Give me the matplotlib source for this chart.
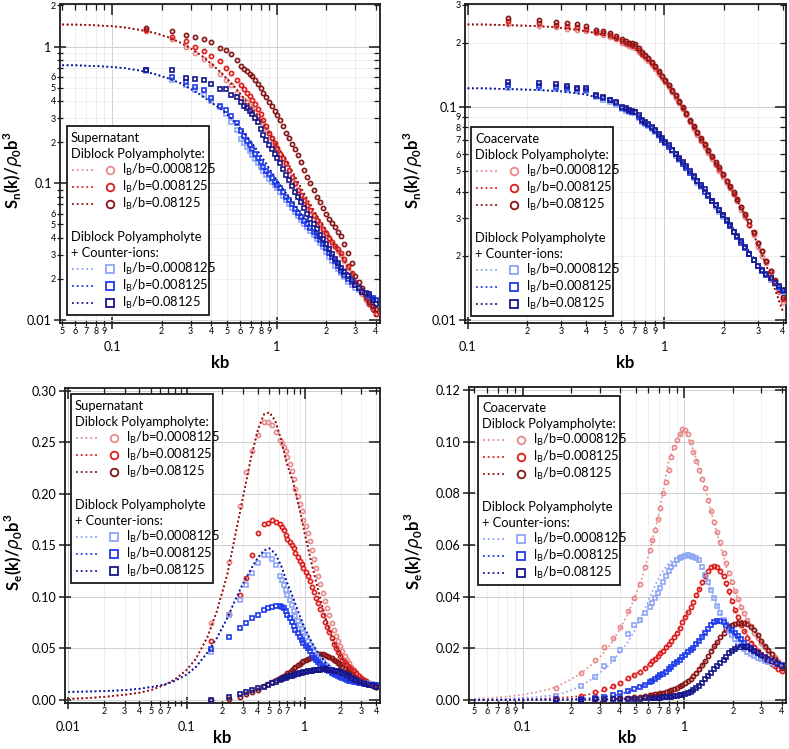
import numpy as np
import matplotlib
matplotlib.use("Agg")
import matplotlib.pyplot as plt
from matplotlib.patches import Rectangle
from matplotlib.lines import Line2D
from matplotlib.ticker import (LogLocator, FuncFormatter, MultipleLocator,
                               FormatStrFormatter)

plt.rcParams['font.family'] = ['Lato', 'DejaVu Sans']

W, H = 789, 749

# light red, red, dark red, light blue, blue, dark blue
COLORS = ['#E68A8C', '#DD1C1C', '#861515', '#8EA6F5', '#1F3BEB', '#16168A']
MARKERS = ['o', 'o', 'o', 's', 's', 's']
LB_VALUES = ['0.0008125', '0.008125', '0.08125']

# simulation wavevectors (same grid in every panel)
K_SIM = [0.16, 0.23, 0.28, 0.32, 0.36, 0.40, 0.45, 0.49, 0.53, 0.57, 0.61,
         0.635, 0.66, 0.685, 0.71, 0.74, 0.77, 0.80, 0.83, 0.865, 0.90, 0.935, 0.97,
         1.01, 1.05, 1.095, 1.14, 1.19, 1.24, 1.295, 1.35, 1.41, 1.47, 1.535, 1.60,
         1.675, 1.75, 1.825, 1.90, 1.985, 2.07, 2.16, 2.25, 2.35, 2.45, 2.575, 2.70,
         2.85, 3.00, 3.15, 3.30, 3.475, 3.65, 3.825, 4.00]

# ---- Supernatant, S_n(k) ----
K_TH_SN_SUP = [0.05, 0.06, 0.07, 0.08, 0.1, 0.12, 0.14, 0.16, 0.19, 0.22, 0.26, 0.3, 0.35,
               0.4, 0.45, 0.5, 0.56, 0.63, 0.7, 0.8, 0.9, 1.0, 1.15, 1.3, 1.5, 1.75, 2.0,
               2.4, 2.8, 3.3, 4.0]
TH_SN_SUP_RED = [1.45, 1.45, 1.44, 1.43, 1.41, 1.38, 1.34, 1.30, 1.24, 1.17, 1.07, 0.97, 0.86,
                 0.75, 0.66, 0.58, 0.50, 0.42, 0.36, 0.29, 0.235, 0.19, 0.145, 0.11, 0.08,
                 0.058, 0.045, 0.031, 0.023, 0.016, 0.0105]
TH_SN_SUP_BLUE = [0.73, 0.73, 0.725, 0.72, 0.71, 0.695, 0.675, 0.655, 0.62, 0.585, 0.54, 0.49,
                  0.44, 0.39, 0.355, 0.32, 0.28, 0.235, 0.2, 0.16, 0.128, 0.105, 0.083, 0.068,
                  0.053, 0.042, 0.034, 0.026, 0.021, 0.017, 0.014]
SN_SUP_LR = [1.30, 1.13, 1.00, 0.90, 0.81, 0.73, 0.63, 0.57, 0.52, 0.46, 0.42,
             0.405, 0.39, 0.37, 0.35, 0.33, 0.31, 0.29, 0.27, 0.248, 0.228, 0.21, 0.193,
             0.178, 0.163, 0.15, 0.138, 0.124, 0.11, 0.099, 0.089, 0.081, 0.074, 0.068,
             0.063, 0.058, 0.053, 0.049, 0.045, 0.042, 0.039, 0.036, 0.034, 0.032, 0.030,
             0.027, 0.024, 0.0215, 0.019, 0.017, 0.0155, 0.014, 0.013, 0.012, 0.011]
SN_SUP_R = [1.33, 1.18, 1.09, 1.00, 0.93, 0.86, 0.78, 0.70, 0.64, 0.57, 0.52,
            0.49, 0.46, 0.435, 0.41, 0.38, 0.35, 0.32, 0.29, 0.262, 0.235, 0.215, 0.198,
            0.18, 0.165, 0.152, 0.14, 0.125, 0.112, 0.1, 0.09, 0.082, 0.075, 0.069, 0.064,
            0.059, 0.054, 0.05, 0.046, 0.043, 0.040, 0.037, 0.035, 0.033, 0.031, 0.028,
            0.025, 0.022, 0.019, 0.0175, 0.016, 0.0145, 0.013, 0.012, 0.011]
SN_SUP_DR = [1.37, 1.29, 1.22, 1.17, 1.13, 1.08, 0.98, 0.94, 0.89, 0.80, 0.72,
             0.69, 0.66, 0.635, 0.61, 0.57, 0.53, 0.495, 0.46, 0.425, 0.39, 0.365, 0.34,
             0.315, 0.29, 0.262, 0.235, 0.215, 0.195, 0.178, 0.16, 0.142, 0.125, 0.112,
             0.10, 0.09, 0.08, 0.073, 0.066, 0.06, 0.055, 0.051, 0.048, 0.044, 0.041, 0.036,
             0.031, 0.026, 0.021, 0.019, 0.017, 0.015, 0.0135, 0.0127, 0.012]
SN_SUP_LB = [0.66, 0.57, 0.52, 0.48, 0.44, 0.40, 0.36, 0.32, 0.28, 0.245, 0.212,
             0.197, 0.183, 0.171, 0.16, 0.15, 0.14, 0.131, 0.123, 0.115, 0.108, 0.102, 0.097,
             0.092, 0.087, 0.081, 0.076, 0.071, 0.066, 0.062, 0.058, 0.054, 0.050, 0.0475,
             0.045, 0.042, 0.039, 0.0365, 0.034, 0.0315, 0.029, 0.027, 0.025, 0.0235, 0.022,
             0.0205, 0.019, 0.018, 0.017, 0.0165, 0.016, 0.0155, 0.015, 0.0145, 0.014]
SN_SUP_B = [0.67, 0.60, 0.555, 0.505, 0.48, 0.42, 0.37, 0.345, 0.31, 0.275, 0.24,
            0.222, 0.205, 0.19, 0.178, 0.165, 0.152, 0.142, 0.132, 0.124, 0.116, 0.109,
            0.103, 0.097, 0.092, 0.086, 0.08, 0.075, 0.07, 0.065, 0.061, 0.057, 0.053, 0.05,
            0.047, 0.044, 0.041, 0.0385, 0.036, 0.0335, 0.031, 0.029, 0.027, 0.025, 0.023,
            0.0215, 0.020, 0.019, 0.018, 0.017, 0.016, 0.0155, 0.015, 0.0145, 0.014]
SN_SUP_DB = [0.68, 0.67, 0.59, 0.58, 0.57, 0.53, 0.49, 0.49, 0.445, 0.43, 0.39,
             0.37, 0.355, 0.34, 0.32, 0.30, 0.28, 0.25, 0.225, 0.207, 0.19, 0.177, 0.165,
             0.152, 0.14, 0.127, 0.115, 0.105, 0.095, 0.087, 0.08, 0.073, 0.066, 0.06,
             0.055, 0.05, 0.046, 0.042, 0.039, 0.036, 0.033, 0.0305, 0.028, 0.026, 0.024,
             0.0225, 0.021, 0.0195, 0.018, 0.017, 0.016, 0.0158, 0.0155, 0.014, 0.013]

# ---- Coacervate, S_n(k) ----
K_TH_SN_COA = [0.1, 0.12, 0.14, 0.16, 0.19, 0.22, 0.26, 0.3, 0.35, 0.4, 0.45, 0.5, 0.56, 0.63,
               0.7, 0.8, 0.9, 1.0, 1.15, 1.3, 1.5, 1.75, 2.0, 2.4, 2.8, 3.3, 4.0]
TH_SN_COA_RED = [0.243, 0.243, 0.242, 0.241, 0.240, 0.239, 0.237, 0.234, 0.230, 0.226, 0.221,
                 0.216, 0.208, 0.198, 0.188, 0.172, 0.153, 0.134, 0.11, 0.092, 0.074, 0.058,
                 0.048, 0.035, 0.026, 0.018, 0.011]
TH_SN_COA_BLUE = [0.122, 0.122, 0.1215, 0.121, 0.1205, 0.12, 0.119, 0.118, 0.116, 0.114, 0.111,
                  0.108, 0.104, 0.099, 0.094, 0.086, 0.0775, 0.069, 0.059, 0.052, 0.044, 0.0365,
                  0.031, 0.0245, 0.020, 0.0165, 0.0136]
SN_COA_LR = [0.243, 0.239, 0.236, 0.232, 0.229, 0.226, 0.222, 0.218, 0.213, 0.207, 0.199,
             0.196, 0.193, 0.191, 0.188, 0.181, 0.174, 0.169, 0.164, 0.157, 0.150, 0.143,
             0.137, 0.13, 0.124, 0.117, 0.110, 0.104, 0.098, 0.091, 0.085, 0.079, 0.074,
             0.069, 0.065, 0.061, 0.057, 0.0535, 0.050, 0.047, 0.044, 0.0415, 0.039, 0.036,
             0.033, 0.0305, 0.028, 0.025, 0.022, 0.020, 0.0185, 0.0167, 0.015, 0.0135, 0.0122]
SN_COA_R = [0.251, 0.247, 0.242, 0.239, 0.236, 0.232, 0.225, 0.222, 0.218, 0.211, 0.203,
            0.200, 0.197, 0.195, 0.192, 0.185, 0.177, 0.172, 0.167, 0.16, 0.153, 0.146, 0.139,
            0.132, 0.126, 0.119, 0.112, 0.105, 0.099, 0.092, 0.086, 0.08, 0.075, 0.07, 0.066,
            0.062, 0.058, 0.054, 0.051, 0.048, 0.045, 0.042, 0.039, 0.0365, 0.034, 0.031,
            0.028, 0.0255, 0.023, 0.021, 0.019, 0.017, 0.0152, 0.0138, 0.0125]
SN_COA_DR = [0.260, 0.255, 0.249, 0.246, 0.243, 0.239, 0.229, 0.226, 0.222, 0.215, 0.207,
             0.203, 0.200, 0.198, 0.196, 0.188, 0.180, 0.175, 0.170, 0.162, 0.155, 0.147,
             0.140, 0.133, 0.127, 0.12, 0.113, 0.106, 0.100, 0.093, 0.087, 0.081, 0.076,
             0.071, 0.067, 0.063, 0.059, 0.055, 0.052, 0.0485, 0.045, 0.0425, 0.040, 0.037,
             0.034, 0.0315, 0.029, 0.026, 0.023, 0.021, 0.019, 0.017, 0.0155, 0.014, 0.0128]
SN_COA_LB = [0.123, 0.122, 0.121, 0.120, 0.119, 0.118, 0.111, 0.108, 0.105, 0.102, 0.098,
             0.096, 0.094, 0.0935, 0.093, 0.089, 0.085, 0.083, 0.081, 0.0785, 0.076, 0.073,
             0.070, 0.0675, 0.065, 0.062, 0.059, 0.0565, 0.054, 0.0515, 0.049, 0.0465,
             0.044, 0.042, 0.040, 0.038, 0.036, 0.034, 0.032, 0.0305, 0.029, 0.0275, 0.026,
             0.0245, 0.023, 0.0218, 0.0205, 0.0192, 0.018, 0.017, 0.0162, 0.0155, 0.0148,
             0.0142, 0.0136]
SN_COA_B = [0.127, 0.125, 0.124, 0.122, 0.121, 0.120, 0.112, 0.110, 0.107, 0.104, 0.099,
            0.0975, 0.096, 0.095, 0.094, 0.09, 0.086, 0.084, 0.082, 0.0795, 0.077, 0.0735,
            0.070, 0.0675, 0.065, 0.0625, 0.060, 0.057, 0.054, 0.0515, 0.049, 0.047, 0.045,
            0.0425, 0.040, 0.038, 0.036, 0.0345, 0.033, 0.031, 0.029, 0.0275, 0.026, 0.0245,
            0.023, 0.0218, 0.0205, 0.0192, 0.018, 0.017, 0.0163, 0.0157, 0.015, 0.0143,
            0.0137]
SN_COA_DB = [0.131, 0.129, 0.128, 0.125, 0.123, 0.122, 0.113, 0.111, 0.108, 0.105, 0.100,
             0.0985, 0.097, 0.096, 0.095, 0.091, 0.087, 0.085, 0.083, 0.0805, 0.078, 0.0745,
             0.071, 0.0685, 0.066, 0.063, 0.060, 0.0575, 0.055, 0.0525, 0.050, 0.0475, 0.045,
             0.043, 0.041, 0.0385, 0.036, 0.0345, 0.033, 0.031, 0.0295, 0.0278, 0.026,
             0.0248, 0.0235, 0.022, 0.0205, 0.0192, 0.018, 0.0172, 0.0165, 0.0157, 0.015,
             0.0144, 0.0138]

# ---- Supernatant, S_e(k) ----
K_TH_SE_SUP = [0.01, 0.013, 0.017, 0.022, 0.03, 0.04, 0.05, 0.065, 0.08, 0.1, 0.12, 0.15,
               0.18, 0.22, 0.26, 0.3, 0.35, 0.4, 0.45, 0.5, 0.56, 0.63, 0.7, 0.8, 0.9, 1.0,
               1.15, 1.3, 1.5, 1.75, 2.0, 2.4, 2.8, 3.3, 4.0]
TH_SE_SUP_RED = [0.0010, 0.0015, 0.0023, 0.0034, 0.0050, 0.0070, 0.0095, 0.0145, 0.020, 0.029,
                 0.040, 0.061, 0.086, 0.121, 0.162, 0.197, 0.235, 0.262, 0.277, 0.279, 0.271,
                 0.252, 0.230, 0.21, 0.185, 0.16, 0.13, 0.105, 0.078, 0.056, 0.042, 0.029,
                 0.022, 0.017, 0.0125]
TH_SE_SUP_BLUE = [0.0078, 0.0080, 0.0083, 0.0087, 0.0095, 0.0108, 0.0125, 0.0148, 0.0185,
                  0.0245, 0.032, 0.046, 0.060, 0.079, 0.098, 0.113, 0.127, 0.138, 0.145, 0.147,
                  0.142, 0.13, 0.115, 0.098, 0.082, 0.069, 0.055, 0.045, 0.036, 0.029, 0.025,
                  0.021, 0.019, 0.017, 0.0145]
SE_SUP_LR = [0.075, 0.134, 0.188, 0.221, 0.241, 0.257, 0.270, 0.270, 0.267, 0.260, 0.252,
             0.249, 0.245, 0.241, 0.236, 0.229, 0.222, 0.214, 0.205, 0.198, 0.190, 0.183,
             0.175, 0.169, 0.162, 0.154, 0.145, 0.137, 0.128, 0.12, 0.112, 0.104, 0.096,
             0.089, 0.082, 0.075, 0.068, 0.062, 0.057, 0.052, 0.047, 0.043, 0.039, 0.0355,
             0.032, 0.029, 0.026, 0.0235, 0.021, 0.0195, 0.018, 0.0165, 0.015, 0.014, 0.013]
SE_SUP_R = [0.057, 0.083, 0.102, 0.118, 0.141, 0.162, 0.171, 0.172, 0.1745, 0.173, 0.171,
            0.168, 0.165, 0.16, 0.156, 0.153, 0.150, 0.147, 0.143, 0.139, 0.135, 0.132, 0.128,
            0.124, 0.120, 0.115, 0.110, 0.105, 0.099, 0.094, 0.088, 0.082, 0.076, 0.071,
            0.066, 0.06, 0.054, 0.05, 0.046, 0.0425, 0.039, 0.0365, 0.034, 0.032, 0.030,
            0.028, 0.026, 0.0235, 0.021, 0.0195, 0.018, 0.0165, 0.015, 0.014, 0.013]
SE_SUP_DR = [0.000, 0.001, 0.003, 0.006, 0.008, 0.010, 0.0135, 0.015, 0.017, 0.019, 0.021,
             0.022, 0.023, 0.0245, 0.026, 0.0275, 0.029, 0.0305, 0.032, 0.0335, 0.035,
             0.0365, 0.038, 0.039, 0.040, 0.041, 0.042, 0.0433, 0.0445, 0.0447, 0.0445,
             0.0443, 0.044, 0.043, 0.042, 0.0405, 0.039, 0.0375, 0.036, 0.034, 0.032, 0.030,
             0.028, 0.026, 0.024, 0.0225, 0.021, 0.0195, 0.018, 0.017, 0.016, 0.0152, 0.0145,
             0.0138, 0.013]
SE_SUP_LB = [0.046, 0.082, 0.097, 0.1115, 0.123, 0.1325, 0.1406, 0.1406, 0.137, 0.131, 0.12,
             0.116, 0.1115, 0.107, 0.102, 0.097, 0.092, 0.0865, 0.081, 0.077, 0.0727, 0.069,
             0.066, 0.0615, 0.057, 0.0535, 0.05, 0.0468, 0.0436, 0.041, 0.039, 0.0365, 0.034,
             0.0325, 0.031, 0.029, 0.0275, 0.026, 0.025, 0.024, 0.023, 0.022, 0.021, 0.020,
             0.0195, 0.0188, 0.018, 0.0175, 0.017, 0.0165, 0.016, 0.0155, 0.015, 0.0145, 0.014]
SE_SUP_B = [0.049, 0.0614, 0.0695, 0.075, 0.079, 0.0824, 0.0873, 0.089, 0.0905, 0.0915,
            0.0915, 0.0905, 0.089, 0.086, 0.0824, 0.079, 0.076, 0.072, 0.068, 0.065, 0.0614,
            0.058, 0.055, 0.0525, 0.050, 0.047, 0.0436, 0.041, 0.039, 0.037, 0.035, 0.033,
            0.031, 0.0295, 0.028, 0.0265, 0.025, 0.024, 0.023, 0.022, 0.021, 0.020, 0.0195,
            0.0188, 0.018, 0.0175, 0.017, 0.0165, 0.016, 0.0155, 0.015, 0.0147, 0.0145,
            0.0142, 0.014]
SE_SUP_DB = [0.000, 0.003, 0.0055, 0.008, 0.0097, 0.0113, 0.013, 0.0145, 0.016, 0.0175, 0.019,
             0.020, 0.021, 0.0215, 0.022, 0.023, 0.0235, 0.024, 0.025, 0.0255, 0.026, 0.0265,
             0.027, 0.0275, 0.028, 0.0283, 0.0285, 0.0288, 0.029, 0.0293, 0.0295, 0.0298,
             0.030, 0.0295, 0.029, 0.0288, 0.0285, 0.0283, 0.028, 0.027, 0.026, 0.025, 0.024,
             0.0228, 0.0215, 0.020, 0.019, 0.018, 0.017, 0.016, 0.0155, 0.0148, 0.014,
             0.0135, 0.013]

# ---- Coacervate, S_e(k) ----
K_TH_SE_COA = [0.05, 0.065, 0.08, 0.1, 0.12, 0.15, 0.18, 0.22, 0.26, 0.3, 0.35, 0.4, 0.45, 0.5,
               0.56, 0.63, 0.7, 0.8, 0.9, 1.0, 1.1, 1.2, 1.35, 1.5, 1.65, 1.8, 2.0, 2.2, 2.4,
               2.7, 3.0, 3.4, 4.0]
TH_SE_COA_LR = [0.0004, 0.0008, 0.0013, 0.002, 0.0029, 0.0043, 0.0065, 0.0095, 0.013, 0.0165,
                0.0215, 0.0275, 0.0335, 0.0405, 0.049, 0.061, 0.0725, 0.0925, 0.101, 0.1047,
                0.099, 0.0925, 0.082, 0.0705, 0.061, 0.0525, 0.0445, 0.0375, 0.032, 0.0255,
                0.021, 0.017, 0.0125]
TH_SE_COA_R = [0.0001, 0.0001, 0.0002, 0.0003, 0.0004, 0.0006, 0.0009, 0.0014, 0.0022, 0.0032,
               0.0047, 0.0063, 0.0083, 0.010, 0.012, 0.0148, 0.0175, 0.0215, 0.026, 0.0315,
               0.036, 0.041, 0.0475, 0.052, 0.0505, 0.0455, 0.037, 0.0305, 0.026, 0.021, 0.018,
               0.015, 0.011]
TH_SE_COA_DR = [0.0, 0.0, 0.0, 0.0, 0.0001, 0.0001, 0.0001, 0.0002, 0.0002, 0.0003, 0.0004,
                0.0005, 0.0007, 0.0009, 0.0012, 0.0016, 0.0021, 0.003, 0.0045, 0.0062, 0.0082,
                0.0105, 0.015, 0.0195, 0.0235, 0.027, 0.0298, 0.031, 0.0303, 0.027, 0.0228,
                0.018, 0.0123]
TH_SE_COA_LB = [0.0002, 0.0003, 0.0005, 0.0008, 0.0011, 0.0017, 0.0027, 0.0048, 0.0075, 0.0105,
                0.014, 0.0185, 0.0225, 0.0275, 0.034, 0.0415, 0.0478, 0.053, 0.0555, 0.0561,
                0.0558, 0.0545, 0.0485, 0.041, 0.0345, 0.0285, 0.0238, 0.0202, 0.0182, 0.0168,
                0.0159, 0.0148, 0.0135]
TH_SE_COA_B = [0.0, 0.0, 0.0001, 0.0001, 0.0002, 0.0002, 0.0003, 0.0005, 0.0007, 0.001, 0.0015,
               0.0022, 0.0032, 0.0043, 0.0055, 0.0072, 0.0092, 0.0118, 0.015, 0.0172, 0.0192,
               0.022, 0.026, 0.0295, 0.0305, 0.0295, 0.0265, 0.0235, 0.021, 0.019, 0.0172,
               0.0155, 0.0135]
TH_SE_COA_DB = [0.0, 0.0, 0.0, 0.0, 0.0, 0.0, 0.0, 0.0001, 0.0001, 0.0001, 0.0002, 0.0002,
                0.0003, 0.0004, 0.0005, 0.0006, 0.0008, 0.001, 0.0013, 0.002, 0.0032, 0.0048,
                0.0075, 0.011, 0.0138, 0.0165, 0.0192, 0.0205, 0.0203, 0.019, 0.0173, 0.0155,
                0.013]
SE_COA_LR = [0.0048, 0.0103, 0.0155, 0.0205, 0.024, 0.0284, 0.0345, 0.0395, 0.045, 0.0515,
             0.058, 0.062, 0.066, 0.070, 0.0745, 0.080, 0.0845, 0.089, 0.094, 0.098, 0.1005,
             0.103, 0.1048, 0.1045, 0.103, 0.1, 0.096, 0.0925, 0.089, 0.0855, 0.082, 0.0775,
             0.073, 0.069, 0.065, 0.061, 0.057, 0.053, 0.049, 0.0455, 0.042, 0.039, 0.036,
             0.0335, 0.031, 0.0285, 0.026, 0.024, 0.022, 0.0205, 0.019, 0.0178, 0.0165, 0.015,
             0.0135]
SE_COA_R = [0.0008, 0.0015, 0.003, 0.0043, 0.0055, 0.0067, 0.0085, 0.0097, 0.011, 0.0125,
            0.014, 0.015, 0.016, 0.017, 0.018, 0.019, 0.0205, 0.0218, 0.023, 0.0245, 0.026,
            0.028, 0.030, 0.032, 0.034, 0.036, 0.038, 0.0405, 0.043, 0.0455, 0.048, 0.050,
            0.0515, 0.052, 0.0515, 0.050, 0.048, 0.0452, 0.042, 0.0385, 0.035, 0.032, 0.029,
            0.0265, 0.024, 0.022, 0.0205, 0.019, 0.0175, 0.016, 0.015, 0.014, 0.013, 0.012,
            0.0112]
SE_COA_DR = [0.0002, 0.0003, 0.0004, 0.0005, 0.0006, 0.0007, 0.0009, 0.0011, 0.0013, 0.0015,
             0.0018, 0.002, 0.0021, 0.0023, 0.0025, 0.0027, 0.003, 0.0033, 0.0037, 0.0041,
             0.0046, 0.0052, 0.0058, 0.0065, 0.0072, 0.0082, 0.0092, 0.0105, 0.0118, 0.0134,
             0.015, 0.017, 0.019, 0.0208, 0.0225, 0.0243, 0.026, 0.0273, 0.0285, 0.029,
             0.0295, 0.0297, 0.0297, 0.0296, 0.0293, 0.0283, 0.027, 0.025, 0.023, 0.021,
             0.0195, 0.0178, 0.016, 0.0142, 0.0123]
SE_COA_LB = [0.0015, 0.0055, 0.009, 0.013, 0.016, 0.0195, 0.0255, 0.029, 0.031, 0.0335, 0.036,
             0.0377, 0.0394, 0.0413, 0.0432, 0.0456, 0.048, 0.0498, 0.0515, 0.0528, 0.054,
             0.0548, 0.0555, 0.0558, 0.056, 0.0558, 0.0555, 0.0548, 0.054, 0.0515, 0.0485,
             0.0455, 0.0425, 0.0395, 0.0365, 0.0338, 0.031, 0.0288, 0.0268, 0.0251, 0.0235,
             0.0222, 0.021, 0.0198, 0.0187, 0.0178, 0.017, 0.0164, 0.0158, 0.0152, 0.0147,
             0.0143, 0.014, 0.0136, 0.0132]
SE_COA_B = [0.0003, 0.0005, 0.0008, 0.0012, 0.0018, 0.0025, 0.0034, 0.0042, 0.005, 0.0058,
            0.0068, 0.0074, 0.008, 0.0087, 0.0095, 0.0102, 0.011, 0.0119, 0.0128, 0.0138,
            0.0148, 0.0156, 0.0165, 0.0175, 0.0185, 0.0192, 0.020, 0.0215, 0.023, 0.0245,
            0.026, 0.0275, 0.029, 0.030, 0.0305, 0.0304, 0.030, 0.029, 0.028, 0.027, 0.026,
            0.0248, 0.0235, 0.0222, 0.021, 0.020, 0.019, 0.018, 0.017, 0.0162, 0.0155, 0.015,
            0.0145, 0.014, 0.0135]
SE_COA_DB = [0.0001, 0.0001, 0.0002, 0.0002, 0.0003, 0.0003, 0.0004, 0.0005, 0.0005, 0.0006,
             0.0007, 0.0007, 0.0008, 0.0008, 0.0009, 0.001, 0.0011, 0.0012, 0.0013, 0.0014,
             0.0016, 0.0018, 0.002, 0.0023, 0.0027, 0.0032, 0.0038, 0.0046, 0.0055, 0.0067,
             0.008, 0.0093, 0.0105, 0.0118, 0.013, 0.0143, 0.0155, 0.0168, 0.0182, 0.019,
             0.0198, 0.0203, 0.0205, 0.0205, 0.0203, 0.0197, 0.019, 0.0182, 0.0173, 0.0166,
             0.016, 0.0152, 0.0145, 0.0138, 0.013]


def digit_labels(keep):
    # label minor log ticks with their leading digit only
    def fmt(v, pos):
        e = np.floor(np.log10(v) + 1e-9)
        d = int(round(v / 10 ** e))
        return str(d) if d in keep else ''
    return FuncFormatter(fmt)


def add_axes_px(fig, left, top, right, bottom):
    return fig.add_axes([left / W, 1 - bottom / H, (right - left) / W, (bottom - top) / H])


def style_axes(ax, xlim, ylim, xkeep, ykeep=None, ystep=None):
    ax.set_xscale('log')
    if ykeep is not None:
        ax.set_yscale('log')
    ax.set_xlim(*xlim)
    ax.set_ylim(*ylim)
    subs = np.arange(2, 10)
    ax.xaxis.set_major_locator(LogLocator(base=10, numticks=12))
    ax.xaxis.set_minor_locator(LogLocator(base=10, subs=subs, numticks=12))
    ax.xaxis.set_major_formatter(FuncFormatter(lambda v, p: '%g' % v))
    ax.xaxis.set_minor_formatter(digit_labels(xkeep))
    if ykeep is not None:
        ax.yaxis.set_major_locator(LogLocator(base=10, numticks=12))
        ax.yaxis.set_minor_locator(LogLocator(base=10, subs=subs, numticks=12))
        ax.yaxis.set_major_formatter(FuncFormatter(lambda v, p: '%g' % v))
        ax.yaxis.set_minor_formatter(digit_labels(ykeep))
    else:
        ax.yaxis.set_major_locator(MultipleLocator(ystep))
        ax.yaxis.set_major_formatter(FormatStrFormatter('%.2f'))

    ax.tick_params(which='major', direction='inout', length=8, width=1.1, labelsize=9,
                   color='#1a1a1a')
    ax.tick_params(which='minor', direction='inout', length=4, width=0.9, labelsize=6.5,
                   color='#1a1a1a')
    ax.tick_params(axis='x', which='major', pad=9)
    ax.tick_params(axis='x', which='minor', pad=1)
    ax.tick_params(axis='y', which='major', pad=2)
    ax.tick_params(axis='y', which='minor', pad=1)
    for s in ax.spines.values():
        s.set_linewidth(1.3)
        s.set_color('#1a1a1a')
    ax.set_axisbelow(True)
    ax.grid(True, which='major', color='#d0d0d0', lw=0.7)
    ax.grid(True, which='minor', color='#e9e9e9', lw=0.5)

    # transparent overlay carrying the inward ticks on top / right
    m = ax.figure.add_axes(ax.get_position(), sharex=ax, sharey=ax)
    m.patch.set_visible(False)
    for s in m.spines.values():
        s.set_visible(False)
    m.tick_params(which='both', direction='in', left=False, bottom=False, labelleft=False,
                  labelbottom=False, top=True, right=True, labeltop=False, labelright=False,
                  color='#1a1a1a')
    m.tick_params(which='major', length=8, width=1.1)
    m.tick_params(which='minor', length=4, width=0.9)


def plot_series(ax, k_th, theories, sims):
    for vals, col, mk in zip(sims, COLORS, MARKERS):
        assert len(vals) == len(K_SIM)
        ax.plot(K_SIM, vals, ls='none', marker=mk, ms=3.0, mfc='none', mec=col, mew=1.2,
                zorder=3)
    for vals, col in zip(theories, COLORS):
        assert len(vals) == len(k_th)
        ax.plot(k_th, vals, ls=':', color=col, lw=1.2, zorder=4)


def draw_legend(fig, left, top, phase):
    tr = fig.transFigure
    fx = lambda px: px / W
    fy = lambda py: 1 - py / H
    w, h = 142, 189
    fig.add_artist(Rectangle((fx(left), fy(top + h)), w / W, h / H, transform=tr,
                             fc='white', ec='#1a1a1a', lw=1.3, zorder=10))
    heads = [(12, phase), (28, 'Diblock Polyampholyte:'),
             (111, 'Diblock Polyampholyte'), (127, '+ Counter-ions:')]
    for dy, txt in heads:
        fig.text(fx(left + 4), fy(top + dy), txt, fontsize=9.3, va='center', ha='left',
                 zorder=11)
    rows = [44, 61, 78, 143, 160, 177]
    for i, dy in enumerate(rows):
        y = fy(top + dy)
        fig.add_artist(Line2D([fx(left + 5), fx(left + 27)], [y, y], transform=tr, ls=':',
                              color=COLORS[i], lw=1.3, zorder=11))
        fig.add_artist(Line2D([fx(left + 43)], [y], transform=tr, ls='none',
                              marker=MARKERS[i], ms=5.5, mfc='none', mec=COLORS[i],
                              mew=1.3, zorder=11))
        fig.text(fx(left + 55), y, r'l$_\mathregular{B}$/b=' + LB_VALUES[i % 3],
                 fontsize=9.3, va='center', ha='left', zorder=11)


def label_axes(ax, sub, ylab_x, xlab_y):
    ax.set_xlabel('kb', fontsize=12, fontweight='bold')
    ax.xaxis.set_label_coords(0.5, xlab_y)
    ax.set_ylabel(r'S$_\mathregular{%s}$(k)/$\rho_\mathregular{0}$b$^\mathregular{3}$' % sub,
                  fontsize=12, fontweight='bold')
    ax.yaxis.set_label_coords(ylab_x, 0.48)


fig = plt.figure(figsize=(W / 100, H / 100), dpi=100)

all_digits = {2, 3, 4, 5, 6, 7, 8, 9}

# top-left: supernatant S_n
ax1 = add_axes_px(fig, 60, 4, 380, 323)
plot_series(ax1, K_TH_SN_SUP, [TH_SN_SUP_RED] * 3 + [TH_SN_SUP_BLUE] * 3,
            [SN_SUP_LR, SN_SUP_R, SN_SUP_DR, SN_SUP_LB, SN_SUP_B, SN_SUP_DB])
label_axes(ax1, 'n', -0.108, -0.1)
style_axes(ax1, (0.0484, 4.23), (0.0095, 2.05), all_digits, ykeep={2, 3, 4, 5, 6})
draw_legend(fig, 67, 126, 'Supernatant')

# top-right: coacervate S_n
ax2 = add_axes_px(fig, 465, 4, 786, 323)
plot_series(ax2, K_TH_SN_COA, [TH_SN_COA_RED] * 3 + [TH_SN_COA_BLUE] * 3,
            [SN_COA_LR, SN_COA_R, SN_COA_DR, SN_COA_LB, SN_COA_B, SN_COA_DB])
label_axes(ax2, 'n', -0.125, -0.1)
style_axes(ax2, (0.097, 4.15), (0.0097, 0.303), all_digits, ykeep=all_digits)
draw_legend(fig, 471, 127, 'Coacervate')

# bottom-left: supernatant S_e
ax3 = add_axes_px(fig, 65, 388, 380, 703)
plot_series(ax3, K_TH_SE_SUP, [TH_SE_SUP_RED] * 3 + [TH_SE_SUP_BLUE] * 3,
            [SE_SUP_LR, SE_SUP_R, SE_SUP_DR, SE_SUP_LB, SE_SUP_B, SE_SUP_DB])
label_axes(ax3, 'e', -0.125, -0.086)
style_axes(ax3, (0.0094, 4.3), (-0.003, 0.3026), {2, 3, 4, 5, 6, 7}, ystep=0.05)
draw_legend(fig, 71, 394, 'Supernatant')

# bottom-right: coacervate S_e
ax4 = add_axes_px(fig, 469, 387, 786, 703)
plot_series(ax4, K_TH_SE_COA,
            [TH_SE_COA_LR, TH_SE_COA_R, TH_SE_COA_DR, TH_SE_COA_LB, TH_SE_COA_B, TH_SE_COA_DB],
            [SE_COA_LR, SE_COA_R, SE_COA_DR, SE_COA_LB, SE_COA_B, SE_COA_DB])
label_axes(ax4, 'e', -0.135, -0.086)
style_axes(ax4, (0.0466, 4.26), (-0.0012, 0.1212), all_digits, ystep=0.02)
draw_legend(fig, 478, 396, 'Coacervate')

fig.savefig('out.png', dpi=100)
